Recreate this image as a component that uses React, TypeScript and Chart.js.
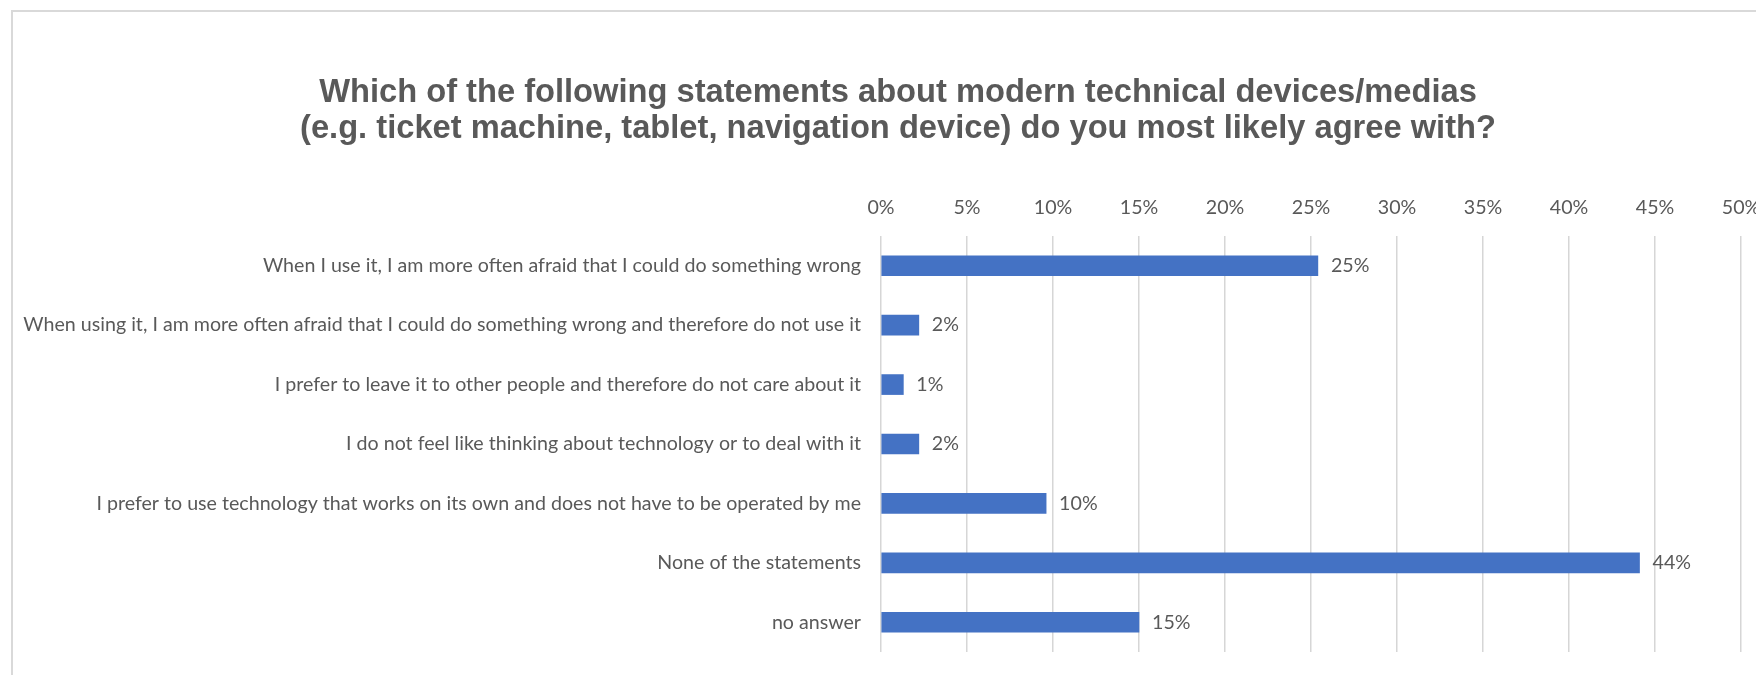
import React, { useEffect, useRef } from 'react';
import { Chart, registerables } from 'chart.js';

Chart.register(...registerables);

const TITLE_LINES = [
  'Which of the following statements about modern technical devices/medias',
  '(e.g. ticket machine, tablet, navigation device) do you most likely agree with?',
];

const CATEGORIES = [
  'When I use it, I am more often afraid that I could do something wrong',
  'When using it, I am more often afraid that I could do something wrong and therefore do not use it',
  'I prefer to leave it to other people and therefore do not care about it',
  'I do not feel like thinking about technology or to deal with it',
  'I prefer to use technology that works on its own and does not have to be operated by me',
  'None of the statements',
  'no answer',
];

const SHARES = [25.4, 2.2, 1.3, 2.2, 9.6, 44.1, 15.0];

const X_MIN = 0;
const X_MAX = 50;
const X_STEP = 5;

const W = 1796;
const H = 675;
const TEXT = '#595959';
const BAR = '#4472C4';
const GRID = '#d6d6d6';
const LABEL_FAMILY = 'Lato, "Open Sans", sans-serif';
const TITLE_FAMILY = '"Liberation Sans", Arial, sans-serif';

function measure(font: string, text: string): number {
  const c = document.createElement('canvas').getContext('2d');
  if (!c) return 1;
  c.font = font;
  return c.measureText(text).width;
}

export default function App() {
  const ref = useRef<HTMLCanvasElement | null>(null);

  useEffect(() => {
    if (!ref.current) return;
    const longest = CATEGORIES.reduce((a, b) => (b.length > a.length ? b : a), '');
    const labelSize = (18 * 838) / measure(`18px ${LABEL_FAMILY}`, longest);
    const titleSize = (30 * 1158) / measure(`bold 30px ${TITLE_FAMILY}`, TITLE_LINES[0]);

    const frame = {
      id: 'frame',
      beforeDraw(chart: any) {
        const ctx = chart.ctx;
        ctx.save();
        ctx.fillStyle = '#ffffff';
        ctx.fillRect(0, 0, chart.width, chart.height);
        ctx.strokeStyle = '#d9d9d9';
        ctx.lineWidth = 2;
        ctx.beginPath();
        ctx.moveTo(12, chart.height + 5);
        ctx.lineTo(12, 11);
        ctx.lineTo(chart.width + 5, 11);
        ctx.stroke();
        ctx.restore();
      },
    };

    const dataLabels = {
      id: 'dataLabels',
      afterDatasetsDraw(chart: any) {
        const ctx = chart.ctx;
        const meta = chart.getDatasetMeta(0);
        const data = chart.data.datasets[0].data as number[];
        ctx.save();
        ctx.fillStyle = TEXT;
        ctx.font = `${labelSize}px ${LABEL_FAMILY}`;
        ctx.textAlign = 'left';
        ctx.textBaseline = 'middle';
        meta.data.forEach((el: any, i: number) => {
          ctx.fillText(`${Math.round(data[i])}%`, el.x + 13, el.y);
        });
        ctx.restore();
      },
    };

    const chart = new Chart(ref.current, {
      type: 'bar',
      data: {
        labels: CATEGORIES,
        datasets: [
          {
            data: SHARES,
            backgroundColor: BAR,
            borderWidth: 0,
            barThickness: 20,
          },
        ],
      },
      options: {
        responsive: false,
        animation: false,
        indexAxis: 'y',
        layout: { padding: { left: 0, right: 0, top: 0, bottom: 23 } },
        plugins: {
          legend: { display: false },
          tooltip: { enabled: false },
          title: {
            display: true,
            text: TITLE_LINES,
            color: TEXT,
            font: { family: TITLE_FAMILY, size: titleSize, weight: 'bold', lineHeight: '36px' },
            padding: { top: 75, bottom: 50 },
          },
        },
        scales: {
          x: {
            type: 'linear',
            position: 'top',
            min: X_MIN,
            max: X_MAX,
            ticks: {
              stepSize: X_STEP,
              maxRotation: 0,
              callback: (v: any) => `${v}%`,
              color: TEXT,
              font: { family: LABEL_FAMILY, size: labelSize, lineHeight: '22px' },
              padding: 17,
            },
            grid: { color: GRID, lineWidth: 1.5, drawTicks: false },
            border: { display: false },
            afterFit: (s: any) => {
              s.height = 39;
              s.paddingLeft = 0;
              s.paddingRight = 55;
              s.paddingTop = 0;
              s.paddingBottom = 0;
            },
          },
          y: {
            type: 'category',
            ticks: {
              color: TEXT,
              font: { family: LABEL_FAMILY, size: labelSize, lineHeight: '22px' },
              padding: 20,
            },
            grid: { display: false, drawTicks: false },
            border: { display: false },
            afterFit: (s: any) => {
              s.width = 881;
              s.paddingTop = 0;
              s.paddingBottom = 0;
            },
          },
        },
      } as any,
      plugins: [frame, dataLabels],
    });

    return () => chart.destroy();
  }, []);

  return (
    <div
      style={{
        position: 'absolute',
        left: 0,
        top: 0,
        width: 1756,
        height: H,
        overflow: 'hidden',
        background: '#fff',
      }}
    >
      <canvas ref={ref} width={W} height={H} style={{ display: 'block', width: W, height: H }} />
    </div>
  );
}
